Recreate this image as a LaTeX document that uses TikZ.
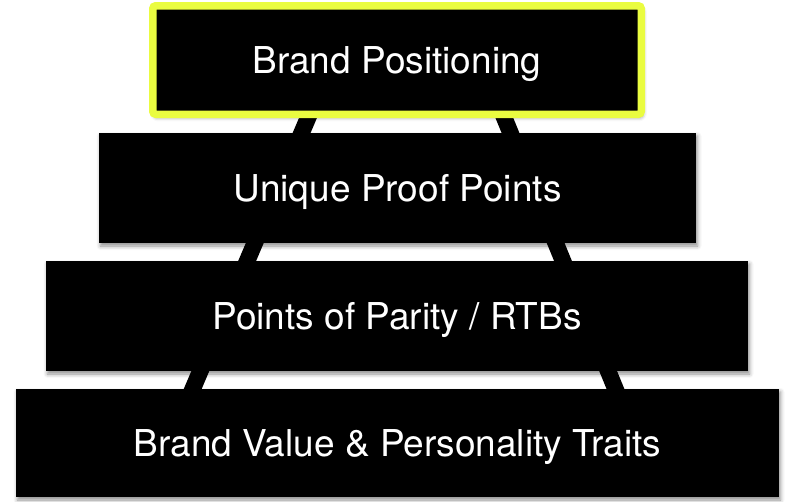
\documentclass[tikz,border=0pt]{standalone}
\usepackage{fontspec}
\setmainfont{TeX Gyre Heros}
\usetikzlibrary{shadows.blur}
\definecolor{topline}{RGB}{234,252,64}
\tikzset{
  tier/.style={rectangle, fill=black, inner sep=0pt, text=white,
    font=\fontsize{37}{42}\selectfont, text height=26pt, text depth=0pt,
    blur shadow={shadow xshift=1.5pt, shadow yshift=-3pt,
      shadow blur radius=4pt, shadow opacity=45}},
  apex/.style={tier, draw=topline, line width=7.5pt, rounded corners=3pt},
  edge/.style={line width=16.5pt, black}
}
\begin{document}
\begin{tikzpicture}[x=1pt,y=-1pt]
  \useasboundingbox (0,0) rectangle (786,501);
  % sides of the pyramid, behind the tiers
  \coordinate (lt) at (315.6,100);
  \coordinate (lb) at (188,400);
  \coordinate (rt) at (497,100);
  \coordinate (rb) at (620,400);
  \draw[edge] (lt) -- (lb);
  \draw[edge] (rt) -- (rb);
  % tiers, bottom to top
  \node[tier, minimum width=763pt, minimum height=108pt] (base) at (397.5,443) {Brand Value \& Personality Traits};
  \node[tier, minimum width=702pt, minimum height=110pt] (parity) at (397,316) {Points of Parity / RTBs};
  \node[tier, minimum width=597pt, minimum height=110pt] (proof) at (397.5,188) {Unique Proof Points};
  \node[apex, minimum width=488.5pt, minimum height=108.5pt] (position) at (397,60) {Brand Positioning};
\end{tikzpicture}
\end{document}
